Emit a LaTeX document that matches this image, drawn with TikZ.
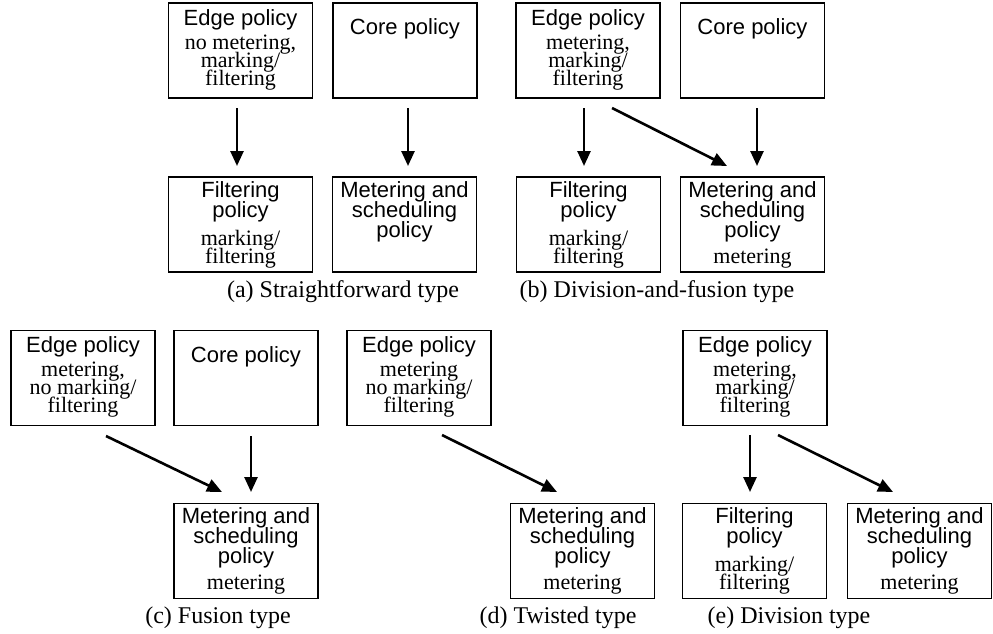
\documentclass[tikz,border=0pt]{standalone}
\usepackage{fontspec}
\setmainfont{Liberation Serif}
\setsansfont{Liberation Sans}
\usetikzlibrary{arrows.meta}
\newcommand\sfl[1]{{\sffamily #1}}
\newcommand\ptfont{\fontsize{22}{18}\selectfont\lineskiplimit=-100pt\relax\lineskip=0pt\relax}
\begin{document}
\begin{tikzpicture}[x=1pt,y=-1pt,
  pbox/.style={draw,line width=1.1pt,minimum width=144pt,minimum height=95pt,inner sep=0pt,outer sep=0pt},
  ptext/.style={anchor=base,align=center,inner sep=0pt,font=\ptfont},
  capt/.style={anchor=base,inner sep=0pt,font=\fontsize{24}{28}\selectfont},
  arr/.style={line width=2.6pt,-{Triangle[length=15pt,width=13pt]}}]
\useasboundingbox (0,0) rectangle (993,634);
% multi-line text nodes are anchored at the baseline of their last line

% ---------- (a) ----------
\node[pbox] (ea) at (240.5,50.5) {};
\node[pbox] (ca) at (405,50.5) {};
\node[pbox] (fa) at (240.5,224.5) {};
\node[pbox] (ma) at (404.5,224.5) {};
\node[ptext] (ea-t) at ([yshift=-82pt]ea.north) {\sfl{Edge policy}\\[6pt]no metering,\\marking/\\filtering};
\node[ptext] (ca-t) at ([yshift=-32pt]ca.north) {\sfl{Core policy}};
\node[ptext] (fa-t) at ([yshift=-86pt]fa.north) {\sfl{Filtering}\\[2pt]\sfl{policy}\\[10pt]marking/\\filtering};
\node[ptext] (ma-t) at ([yshift=-60pt]ma.north) {\sfl{Metering and}\\[2pt]\sfl{scheduling}\\[2pt]\sfl{policy}};
\draw[arr] ([shift={(-3.5,10)}]ea.south) -- ([shift={(-3.5,-11)}]fa.north);
\draw[arr] ([shift={(3,10)}]ca.south) -- ([shift={(3.5,-11)}]ma.north);
\node[capt] (cap-a) at (343,297) {(a) Straightforward type};

% ---------- (b) ----------
\node[pbox] (eb) at (588,50.5) {};
\node[pbox] (cb) at (752.5,50.5) {};
\node[pbox] (fb) at (588.5,224.5) {};
\node[pbox] (mb) at (752.5,224.5) {};
\node[ptext] (eb-t) at ([yshift=-82pt]eb.north) {\sfl{Edge policy}\\[6pt]metering,\\marking/\\filtering};
\node[ptext] (cb-t) at ([yshift=-32pt]cb.north) {\sfl{Core policy}};
\node[ptext] (fb-t) at ([yshift=-86pt]fb.north) {\sfl{Filtering}\\[2pt]\sfl{policy}\\[10pt]marking/\\filtering};
\node[ptext] (mb-t) at ([yshift=-86pt]mb.north) {\sfl{Metering and}\\[2pt]\sfl{scheduling}\\[2pt]\sfl{policy}\\[8pt]metering};
\draw[arr] ([shift={(-4,10)}]eb.south) -- ([shift={(-4.5,-11)}]fb.north);
\draw[arr] ([shift={(24,10)}]eb.south) -- ([shift={(-25.5,-11)}]mb.north);
\draw[arr] ([shift={(4.5,10)}]cb.south) -- ([shift={(4.5,-11)}]mb.north);
\node[capt] (cap-b) at (657,297) {(b) Division-and-fusion type};

% ---------- (c) ----------
\node[pbox] (ec) at (83,378) {};
\node[pbox] (cc) at (246,378) {};
\node[pbox] (mc) at (246,551) {};
\node[ptext] (ec-t) at ([yshift=-82pt]ec.north) {\sfl{Edge policy}\\[6pt]metering,\\no marking/\\filtering};
\node[ptext] (cc-t) at ([yshift=-32pt]cc.north) {\sfl{Core policy}};
\node[ptext] (mc-t) at ([yshift=-86pt]mc.north) {\sfl{Metering and}\\[2pt]\sfl{scheduling}\\[2pt]\sfl{policy}\\[8pt]metering};
\draw[arr] ([shift={(23,10.5)}]ec.south) -- ([shift={(-24,-11.5)}]mc.north);
\draw[arr] ([shift={(5,10.5)}]cc.south) -- ([shift={(5,-11.5)}]mc.north);
\node[capt] (cap-c) at (218,623) {(c) Fusion type};

% ---------- (d) ----------
\node[pbox] (ed) at (419,378) {};
\node[pbox] (md) at (582.5,551) {};
\node[ptext] (ed-t) at ([yshift=-82pt]ed.north) {\sfl{Edge policy}\\[6pt]metering\\no marking/\\filtering};
\node[ptext] (md-t) at ([yshift=-86pt]md.north) {\sfl{Metering and}\\[2pt]\sfl{scheduling}\\[2pt]\sfl{policy}\\[8pt]metering};
\draw[arr] ([shift={(23,9.5)}]ed.south) -- ([shift={(-25.5,-11.5)}]md.north);
\node[capt] (cap-d) at (558,623) {(d) Twisted type};

% ---------- (e) ----------
\node[pbox] (ee) at (755,378) {};
\node[pbox] (fe) at (754.5,551) {};
\node[pbox] (me) at (919.5,551) {};
\node[ptext] (ee-t) at ([yshift=-82pt]ee.north) {\sfl{Edge policy}\\[6pt]metering,\\marking/\\filtering};
\node[ptext] (fe-t) at ([yshift=-86pt]fe.north) {\sfl{Filtering}\\[2pt]\sfl{policy}\\[10pt]marking/\\filtering};
\node[ptext] (me-t) at ([yshift=-86pt]me.north) {\sfl{Metering and}\\[2pt]\sfl{scheduling}\\[2pt]\sfl{policy}\\[8pt]metering};
\draw[arr] ([shift={(-5,9.5)}]ee.south) -- ([shift={(-4.5,-11.5)}]fe.north);
\draw[arr] ([shift={(23,9.5)}]ee.south) -- ([shift={(-26.5,-11.5)}]me.north);
\node[capt] (cap-e) at (789,623) {(e) Division type};
\end{tikzpicture}
\end{document}
